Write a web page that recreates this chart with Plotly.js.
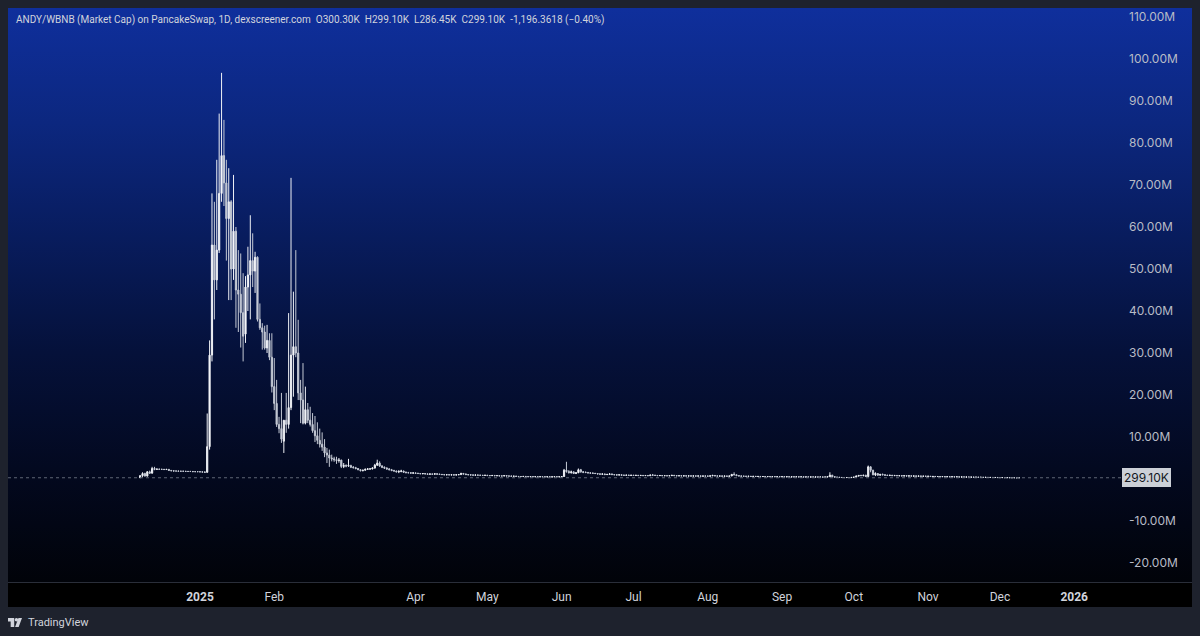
<!DOCTYPE html>
<html>
<head>
<meta charset="utf-8">
<script src="https://cdn.plot.ly/plotly-3.0.1.min.js"></script>
<style>
  html, body { margin: 0; padding: 0; width: 1200px; height: 636px; overflow: hidden; background: #1e222d; }
  #bg { position: absolute; left: 8px; top: 8px; width: 1184px; height: 574px;
        background: linear-gradient(to bottom, #0f2f9c 0%, #0c277f 20%, #081c5d 40%, #05113a 60%, #030920 80%, #010309 100%); }
  #sep { position: absolute; left: 8px; top: 582px; width: 1184px; height: 1px; background: #2a2e39; }
  #strip { position: absolute; left: 8px; top: 583px; width: 1184px; height: 24px; background: #000000; }
  #plot { position: absolute; left: 0; top: 0; width: 1200px; height: 636px; }
  #brand { position: absolute; left: 8px; top: 614px; height: 16px; display: flex; align-items: center;
           font-family: Roboto, sans-serif; font-size: 11px; color: #d1d4dc; }
  #brand svg { margin-right: 4px; }
</style>
</head>
<body>
<div id="bg"></div>
<div id="sep"></div>
<div id="strip"></div>
<div id="plot"></div>
<div id="brand">
  <svg width="16" height="9" viewBox="0 0 36 20"><path fill="#d1d4dc" d="M14 20H6V8H0V0h14v20zM24 20h-8l7.5-20H31.5L24 20z"/><circle cx="19" cy="4" r="4" fill="#d1d4dc"/></svg>
  <span>TradingView</span>
</div>
<script>
// ---- Data (market cap, millions USD), daily OHLC rows [open, high, low, close] ----
const dec2024 = [
 [0.3,0.9,0.25,0.8],[0.8,1.6,0.5,1.3],[1.3,1.5,0.6,0.7],[0.7,1.9,0.6,1.7],[1.7,2.0,1.2,1.4],
 [1.4,2.9,1.3,2.5],[2.5,2.9,2.1,2.3],[2.3,2.5,2.2,2.35],[2.35,2.45,2.25,2.3],[2.3,2.4,2.2,2.3],
 [2.3,2.4,2.2,2.25],[2.25,2.35,2.2,2.3],[2.3,2.35,2.0,2.05],[2.05,2.1,1.9,1.95],[1.95,2.0,1.85,1.9],
 [1.9,1.95,1.85,1.9],[1.9,1.95,1.8,1.85],[1.85,1.9,1.8,1.85],[1.85,1.9,1.8,1.85],[1.85,1.9,1.8,1.8],
 [1.8,1.85,1.75,1.8],[1.8,1.85,1.75,1.8],[1.8,1.85,1.7,1.75],[1.75,1.8,1.7,1.75],[1.75,1.8,1.7,1.75]
];
const jan2025 = [
 [1.75,1.8,1.65,1.7],[1.7,1.75,1.6,1.65],[1.65,1.8,1.5,1.6],[1.6,15.6,1.5,7.7],[7.7,33,7,29.5],
 [29.5,68,28,55.7],[55.7,66,38,47.4],[47.4,76,45,54.5],[54.5,87,53.8,68],[68,96.7,66,77],
 [77,85.5,65,70.5],[70.5,76,52,62],[62,74,42.6,66],[66,66.4,42.6,50],[50,72.4,47.4,59],
 [59,60,36,45],[45,54.5,35,44],[44,53.7,31.3,39.6],[39.6,49,28,34],[34.5,48.3,32.4,45.7],
 [45.7,55.3,40,48.6],[48.6,62.8,38,52],[52,58.5,45.7,49.5],[49.5,54.1,44.3,52.8],[52.8,53,37.5,38],
 [38,41.8,35.5,36],[36,37.1,30.8,35],[35,36.5,30.8,31.2],[31.2,36.7,30,33],[33,34.7,28.3,29],
 [29,34.7,20.6,22]
];
const feb2025 = [
 [22,28.8,16.4,18],[18,23.6,12.4,13],[13,14.8,10.9,12],[12,20.5,8.6,9.5],[9,14,6.2,14],
 [14,20.5,11,13],[13,39.5,12,17],[17,71.7,16.4,29.5],[29.5,44.6,19.6,31.5],[31.5,54.5,29,30],
 [30,37.9,18.8,20.5],[20.5,23.6,13.3,18.8],[18.8,27.6,13,13.3],[13.3,22,13,16.5],[16.5,18.1,13.3,14],
 [14,17.2,12.5,13],[13,15.7,11,11.5],[11.5,15,8.8,10.3],[10.3,13.5,8.3,9.2],[9.2,12,7.5,8.3],
 [8.3,11.1,6.7,7.6],[7.6,9.5,5.2,6.2],[6.2,7.4,3.8,5.7],[5.7,7,2.9,5],[5,5.8,4.2,4.8],
 [4.8,5.3,4.1,4.6],[4.6,5.3,3.6,4.4],[4.4,5,3.9,4.5]
];
const mar2025 = [
 [4.5,4.6,2.6,3],[3,3.8,2.6,3.2],[3.2,3.5,2.8,3.1],[3.1,4.8,2.9,3.2],[3.2,3.4,2.6,2.8],
 [2.8,3.1,2.5,2.7],[2.7,2.9,2.3,2.5],[2.5,2.6,2.1,2.2],[2.2,2.3,1.8,2],[2,2.2,1.8,2.1],
 [2.1,2.5,2,2.3],[2.3,2.6,2.2,2.4],[2.4,2.6,2.2,2.4],[2.4,2.8,2.3,2.6],[2.6,3.6,2.5,3.3],
 [3.3,4.6,3.1,3.8],[3.8,4.2,2.9,3.1],[3.1,3.3,2.6,2.8],[2.8,3,2.4,2.6],[2.6,2.8,2.2,2.4],
 [2.4,2.6,2.1,2.2],[2.2,2.4,1.9,2],[2,2.2,1.8,1.9],[1.9,2,1.6,1.7],[1.7,2.1,1.4,1.8],
 [1.8,2.2,1.6,1.9],[1.9,2,1.5,1.6],[1.6,1.8,1.4,1.5],[1.5,1.7,1.35,1.5],[1.5,1.6,1.3,1.4],
 [1.4,1.6,1.3,1.45]
];
const apr2025 = [
 [1.45,1.55,1.25,1.35],[1.35,1.5,1.25,1.3],[1.3,1.4,1.2,1.25],[1.25,1.4,1.15,1.3],[1.3,1.35,1.2,1.2],
 [1.2,1.3,1.1,1.15],[1.15,1.3,1.05,1.2],[1.2,1.25,1.1,1.15],[1.15,1.3,1.05,1.25],[1.25,1.3,1.1,1.15],
 [1.15,1.25,1.05,1.1],[1.1,1.2,1.0,1.05],[1.05,1.15,0.95,1.0],[1.0,1.1,0.92,1.02],[1.02,1.1,0.95,0.98],
 [0.98,1.05,0.9,1.0],[1.0,1.08,0.92,0.95],[0.95,1.05,0.9,1.0],[1.0,1.1,0.95,1.05],[1.05,1.5,1.0,1.3],
 [1.3,1.45,1.1,1.2],[1.2,1.3,1.0,1.05],[1.05,1.15,0.95,1.0],[1.0,1.1,0.9,0.95],[0.95,1.05,0.88,0.92],
 [0.92,1.0,0.85,0.95],[0.95,1.02,0.88,0.9],[0.9,0.98,0.82,0.88],[0.88,0.95,0.8,0.85],[0.85,0.95,0.8,0.9]
];
const may2025 = [
 [0.9,0.95,0.8,0.82],[0.82,0.9,0.76,0.8],[0.8,0.88,0.75,0.85],[0.85,0.9,0.75,0.78],[0.78,0.85,0.72,0.8],
 [0.8,0.86,0.7,0.74],[0.74,0.8,0.68,0.72],[0.72,0.85,0.7,0.8],[0.8,0.84,0.7,0.72],[0.72,0.78,0.65,0.7],
 [0.7,0.76,0.62,0.66],[0.66,0.72,0.6,0.68],[0.68,0.74,0.6,0.62],[0.62,0.7,0.56,0.6],[0.6,0.66,0.54,0.58],
 [0.58,0.65,0.52,0.62],[0.62,0.66,0.55,0.57],[0.57,0.62,0.5,0.55],[0.55,0.6,0.5,0.58],[0.58,0.64,0.52,0.54],
 [0.54,0.6,0.5,0.56],[0.56,0.62,0.5,0.52],[0.52,0.58,0.48,0.55],[0.55,0.6,0.5,0.53],[0.53,0.58,0.48,0.5],
 [0.5,0.56,0.46,0.54],[0.54,0.58,0.48,0.5],[0.5,0.56,0.46,0.52],[0.52,0.6,0.48,0.55],[0.55,0.6,0.5,0.52],
 [0.52,0.58,0.48,0.54]
];
const jun2025 = [
 [0.54,0.7,0.5,0.6],[0.6,2.4,0.55,2.1],[2.1,4.1,1.5,1.8],[1.8,2.1,1.3,1.5],[1.5,2.0,1.3,1.7],
 [1.7,1.8,1.2,1.3],[1.3,1.6,1.2,1.5],[1.5,2.5,1.4,2.2],[2.2,2.4,1.5,1.7],[1.7,1.9,1.4,1.6],
 [1.6,1.8,1.4,1.55],[1.55,1.7,1.35,1.45],[1.45,1.6,1.3,1.4],[1.4,1.55,1.25,1.35],[1.35,1.45,1.2,1.3],
 [1.3,1.4,1.15,1.2],[1.2,1.35,1.1,1.15],[1.15,1.3,1.05,1.2],[1.2,1.3,1.0,1.05],[1.05,1.2,0.95,1.1],
 [1.1,1.4,1.0,1.2],[1.2,1.3,1.0,1.05],[1.05,1.15,0.95,1.0],[1.0,1.1,0.9,0.95],[0.95,1.05,0.88,1.0],
 [1.0,1.05,0.85,0.9],[0.9,1.0,0.82,0.88],[0.88,0.98,0.8,0.92],[0.92,0.98,0.82,0.86],[0.86,0.95,0.8,0.9]
];
const jul2025 = [
 [0.9,0.96,0.8,0.85],[0.85,0.92,0.78,0.88],[0.88,0.95,0.8,0.82],[0.82,0.9,0.76,0.86],[0.86,0.9,0.78,0.8],
 [0.8,0.88,0.74,0.84],[0.84,0.9,0.76,0.78],[0.78,1.0,0.75,0.95],[0.95,1.2,0.85,0.9],[0.9,0.98,0.8,0.85],
 [0.85,0.92,0.76,0.8],[0.8,0.9,0.74,0.84],[0.84,0.9,0.76,0.78],[0.78,0.86,0.72,0.8],[0.8,0.88,0.72,0.76],
 [0.76,0.84,0.7,0.8],[0.8,0.95,0.74,0.88],[0.88,0.94,0.76,0.8],[0.8,0.86,0.72,0.76],[0.76,0.84,0.7,0.78],
 [0.78,0.84,0.7,0.74],[0.74,0.82,0.68,0.76],[0.76,0.82,0.68,0.72],[0.72,0.8,0.66,0.75],[0.75,0.8,0.66,0.7],
 [0.7,0.78,0.64,0.74],[0.74,0.8,0.66,0.7],[0.7,0.78,0.64,0.73],[0.73,0.78,0.65,0.68],[0.68,0.76,0.62,0.72],
 [0.72,0.78,0.64,0.7]
];
const aug2025 = [
 [0.7,0.76,0.62,0.68],[0.68,0.8,0.62,0.75],[0.75,1.0,0.7,0.85],[0.85,0.9,0.7,0.74],[0.74,0.8,0.66,0.7],
 [0.7,0.76,0.62,0.72],[0.72,0.78,0.64,0.68],[0.68,0.76,0.6,0.7],[0.7,0.76,0.62,0.66],[0.66,0.74,0.6,0.72],
 [0.72,1.2,0.7,1.1],[1.1,1.6,0.9,1.0],[1.0,1.05,0.75,0.8],[0.8,0.86,0.68,0.72],[0.72,0.78,0.62,0.68],
 [0.68,0.74,0.6,0.66],[0.66,0.72,0.58,0.64],[0.64,0.7,0.56,0.66],[0.66,0.7,0.56,0.6],[0.6,0.68,0.54,0.64],
 [0.64,0.68,0.55,0.6],[0.6,0.66,0.52,0.62],[0.62,0.68,0.54,0.58],[0.58,0.64,0.5,0.6],[0.6,0.66,0.52,0.56],
 [0.56,0.62,0.5,0.58],[0.58,0.64,0.5,0.55],[0.55,0.6,0.48,0.58],[0.58,0.62,0.5,0.54],[0.54,0.6,0.48,0.56],
 [0.56,0.62,0.5,0.54]
];
const sep2025 = [
 [0.54,0.6,0.48,0.56],[0.56,0.6,0.48,0.52],[0.52,0.58,0.46,0.55],[0.55,0.6,0.48,0.5],[0.5,0.56,0.44,0.53],
 [0.53,0.58,0.46,0.5],[0.5,0.55,0.44,0.52],[0.52,0.58,0.46,0.49],[0.49,0.55,0.43,0.52],[0.52,0.56,0.45,0.48],
 [0.48,0.54,0.42,0.5],[0.5,0.56,0.44,0.47],[0.47,0.52,0.42,0.5],[0.5,0.55,0.44,0.48],[0.48,0.54,0.42,0.5],
 [0.5,0.56,0.44,0.46],[0.46,0.52,0.4,0.48],[0.48,0.54,0.42,0.45],[0.45,0.5,0.4,0.48],[0.48,0.6,0.44,0.55],
 [0.55,1.6,0.5,0.9],[0.9,1.0,0.5,0.55],[0.55,0.6,0.42,0.45],[0.45,0.5,0.36,0.4],[0.4,0.46,0.32,0.38],
 [0.38,0.44,0.3,0.36],[0.36,0.42,0.28,0.34],[0.34,0.4,0.28,0.36],[0.36,0.42,0.3,0.33],[0.33,0.4,0.28,0.38]
];
const oct2025 = [
 [0.38,0.5,0.34,0.45],[0.45,0.8,0.42,0.7],[0.7,0.95,0.6,0.85],[0.85,1.0,0.7,0.8],[0.8,0.95,0.65,0.9],
 [0.9,1.0,0.55,0.6],[0.6,3.2,0.55,2.9],[2.9,3.0,1.6,2.1],[2.1,2.2,0.9,1.0],[1.0,1.6,0.7,1.3],
 [1.3,1.4,0.8,0.9],[0.9,1.2,0.8,1.1],[1.1,1.3,0.9,1.0],[1.0,1.1,0.8,0.9],[0.9,1.0,0.75,0.85],
 [0.85,0.95,0.7,0.9],[0.9,0.95,0.72,0.8],[0.8,0.9,0.7,0.85],[0.85,0.9,0.7,0.78],[0.78,0.86,0.68,0.8],
 [0.8,0.86,0.66,0.74],[0.74,0.82,0.64,0.78],[0.78,0.84,0.66,0.72],[0.72,0.8,0.62,0.75],[0.75,0.8,0.62,0.7],
 [0.7,0.78,0.6,0.72],[0.72,0.78,0.6,0.68],[0.68,0.76,0.58,0.7],[0.7,0.76,0.58,0.66],[0.66,0.72,0.56,0.68],
 [0.68,0.74,0.56,0.64]
];
const nov2025 = [
 [0.64,0.7,0.55,0.66],[0.66,0.7,0.54,0.6],[0.6,0.68,0.52,0.62],[0.62,0.66,0.5,0.58],[0.58,0.64,0.5,0.6],
 [0.6,0.65,0.5,0.56],[0.56,0.62,0.48,0.58],[0.58,0.62,0.48,0.55],[0.55,0.6,0.46,0.57],[0.57,0.6,0.46,0.53],
 [0.53,0.58,0.44,0.55],[0.55,0.58,0.44,0.5],[0.5,0.55,0.42,0.52],[0.52,0.56,0.42,0.48],[0.48,0.54,0.4,0.5],
 [0.5,0.54,0.4,0.46],[0.46,0.52,0.38,0.48],[0.48,0.52,0.38,0.44],[0.44,0.5,0.36,0.46],[0.46,0.5,0.36,0.42],
 [0.42,0.48,0.34,0.44],[0.44,0.48,0.34,0.4],[0.4,0.46,0.33,0.42],[0.42,0.46,0.32,0.38],[0.38,0.44,0.31,0.4],
 [0.4,0.44,0.31,0.36],[0.36,0.42,0.3,0.38],[0.38,0.42,0.3,0.35],[0.35,0.4,0.29,0.37],[0.37,0.4,0.29,0.34]
];
const dec2025 = [
 [0.34,0.38,0.28,0.33],[0.33,0.37,0.28,0.35],[0.35,0.38,0.29,0.32],[0.32,0.36,0.28,0.33],[0.33,0.36,0.28,0.31],
 [0.31,0.35,0.28,0.32],[0.32,0.35,0.28,0.3],[0.3,0.33,0.28,0.3003],[0.3003,0.2991,0.28645,0.2991]
];
// month blocks: [year, month, first day, rows]
const monthBlocks = [
 [2024,12,7,dec2024],[2025,1,1,jan2025],[2025,2,1,feb2025],[2025,3,1,mar2025],[2025,4,1,apr2025],
 [2025,5,1,may2025],[2025,6,1,jun2025],[2025,7,1,jul2025],[2025,8,1,aug2025],[2025,9,1,sep2025],
 [2025,10,1,oct2025],[2025,11,1,nov2025],[2025,12,1,dec2025]
];

const xTickDates  = ['2025-01-01','2025-02-01','2025-04-01','2025-05-01','2025-06-01','2025-07-01','2025-08-01','2025-09-01','2025-10-01','2025-11-01','2025-12-01','2026-01-01'];
const xTickLabels = ['<b>2025</b>','Feb','Apr','May','Jun','Jul','Aug','Sep','Oct','Nov','Dec','<b>2026</b>'];
const yTickVals   = [-20,-10,10,20,30,40,50,60,70,80,90,100,110];
const yTickLabels = ['-20.00M','-10.00M','10.00M','20.00M','30.00M','40.00M','50.00M','60.00M','70.00M','80.00M','90.00M','100.00M','110.00M'];
const lastPrice = 0.2991;
const lastPriceLabel = '299.10K';
const headerText = 'ANDY/WBNB (Market Cap) on PancakeSwap, 1D, dexscreener.com\u2002O300.30K\u2002H299.10K\u2002L286.45K\u2002C299.10K\u2002-1,196.3618 (\u22120.40%)';

// ---- build trace arrays ----
const dates = [], open = [], high = [], low = [], close = [];
const pad = n => (n < 10 ? '0' : '') + n;
monthBlocks.forEach(([y, m, d0, rows]) => {
  rows.forEach((r, k) => {
    dates.push(y + '-' + pad(m) + '-' + pad(d0 + k));
    open.push(r[0]); high.push(r[1]); low.push(r[2]); close.push(r[3]);
  });
});

const trace = {
  type: 'candlestick',
  x: dates, open: open, high: high, low: low, close: close,
  increasing: { line: { color: '#eef0f5', width: 1 }, fillcolor: '#ffffff' },
  decreasing: { line: { color: '#c4c9d4', width: 1 }, fillcolor: '#c4c9d4' },
  hoverinfo: 'skip',
  showlegend: false
};

const FONT = 'Inter, Roboto, "Noto Sans", sans-serif';
const NARROW = 'Roboto, "Noto Sans", sans-serif';
const layout = {
  width: 1200, height: 636,
  margin: { l: 8, r: 79, t: 8, b: 54 },
  paper_bgcolor: 'rgba(0,0,0,0)',
  plot_bgcolor: 'rgba(0,0,0,0)',
  font: { family: FONT, color: '#d1d4dc', size: 12 },
  xaxis: {
    type: 'date',
    range: ['2024-10-12 20:00', '2026-01-20 13:00'],
    rangeslider: { visible: false },
    showgrid: false, zeroline: false, showline: false,
    tickmode: 'array', tickvals: xTickDates, ticktext: xTickLabels,
    ticks: '', ticklabelstandoff: 6,
    tickfont: { family: NARROW, size: 12, color: '#d1d4dc' }
  },
  yaxis: {
    side: 'right',
    range: [-24.52, 112.14],
    showgrid: false, zeroline: false, showline: false,
    tickmode: 'array', tickvals: yTickVals, ticktext: yTickLabels,
    ticks: '', ticklabelstandoff: 7,
    tickfont: { family: FONT, size: 12, color: '#b8bcc6' }
  },
  shapes: [{
    type: 'line', xref: 'paper', x0: 0, x1: 1, yref: 'y', y0: lastPrice, y1: lastPrice,
    line: { color: '#5f6676', width: 1, dash: 'dot' }
  }],
  annotations: [
    {
      xref: 'paper', x: 1, xanchor: 'left', xshift: 1,
      yref: 'y', y: lastPrice, yanchor: 'middle',
      text: lastPriceLabel, showarrow: false,
      bgcolor: '#ccd0d7', borderpad: 2, borderwidth: 0,
      font: { family: FONT, size: 12, color: '#131722' }
    },
    {
      xref: 'paper', x: 0, xanchor: 'left', xshift: 6,
      yref: 'paper', y: 1, yanchor: 'middle', yshift: -12,
      text: headerText, showarrow: false,
      font: { family: NARROW, size: 10, color: '#d1d4dc' }
    }
  ]
};

Plotly.newPlot('plot', [trace], layout, { staticPlot: true, displayModeBar: false });
</script>
</body>
</html>
